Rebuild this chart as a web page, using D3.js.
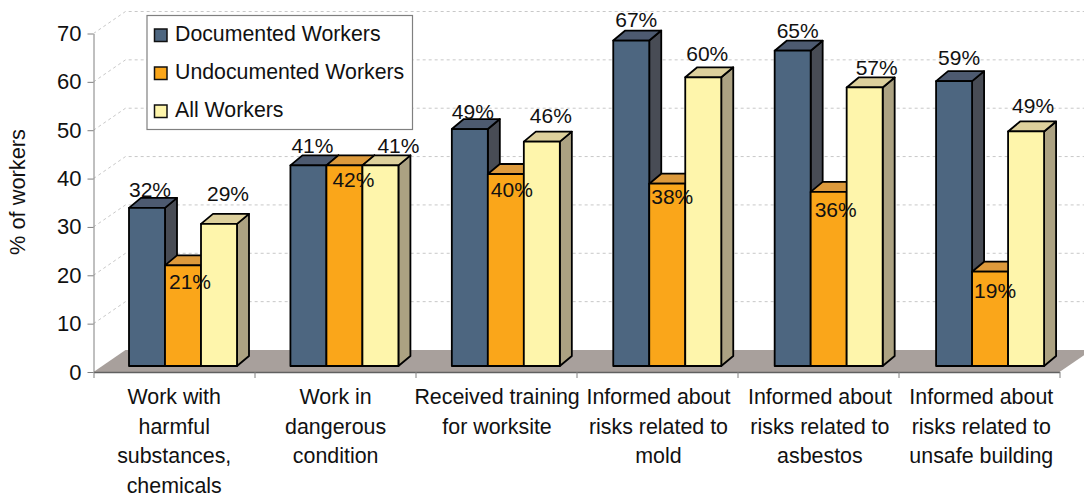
<!DOCTYPE html>
<html>
<head>
<meta charset="utf-8">
<script src="https://cdn.jsdelivr.net/npm/d3@7"></script>
<style>
    html, body { margin: 0; padding: 0; background: #fff; }
    svg { display: block; }
    text { font-family: "Liberation Sans", Arial, sans-serif; fill: #111; }
</style>
</head>
<body>
<svg id="drawing_region"></svg>
<script>
const categories = [
    ["Work with", "harmful", "substances,", "chemicals"],
    ["Work in", "dangerous", "condition"],
    ["Received training", "for worksite"],
    ["Informed about", "risks related to", "mold"],
    ["Informed about", "risks related to", "asbestos"],
    ["Informed about", "risks related to", "unsafe building"]
];
const series_names = ["Documented Workers", "Undocumented Workers", "All Workers"];
const documented = [32.7, 41.5, 49, 67.3, 65.2, 58.9];
const undocumented = [20.8, 41.5, 39.7, 37.7, 36, 19.5];
const all_workers = [29.4, 41.5, 46.4, 59.7, 57.6, 48.5];
const documented_labels = ["32%", "41%", "49%", "67%", "65%", "59%"];
const undocumented_labels = ["21%", "42%", "40%", "38%", "36%", "19%"];
const all_labels = ["29%", "41%", "46%", "60%", "57%", "49%"];
const y_ticks = [0, 10, 20, 30, 40, 50, 60, 70];

const width = 1084, height = 497;
const colors = [
    {front: "#4d6680", top: "#4d5a70", side: "#484c55"},
    {front: "#faa61a", top: "#dd9a3c", side: "#b5822f"},
    {front: "#fef5ab", top: "#ddd09c", side: "#aca282"}
];

// offsets of the 3d box
const wall = {dx: 32, dy: -22};
const bar_depth = {dx: 12, dy: -10};
const bar_lift = 6;

// the picture places its labels by hand, relative to the top of each bar
const label_nudge = [
    {dx: [3, 4, 3, 5, 5, 5], dy: [-11, -12, -10, -14, -13, -16]},
    {dx: [7, 9, 6, 5, 7, 5], dy: [24, 22, 23, 20, 25, 26]},
    {dx: [9, 18, 9, 4, 12, 7], dy: [-23, -12, -19, -16, -12, -18]}
];

const svg = d3.select("#drawing_region")
    .attr("width", width)
    .attr("height", height);

// bars sit on a slightly wider step than the axis ticks in the picture
const xscale = d3.scaleBand()
    .domain(d3.range(categories.length))
    .range([93.5, 1062]);

const xtick = d3.scaleLinear()
    .domain([0, categories.length])
    .range([93.5, 1059.5]);

const inner = d3.scaleBand()
    .domain(d3.range(series_names.length))
    .range([35.5, 143.5]);

const yscale = d3.scaleLinear()
    .domain([0, 70])
    .range([372, 33.5]);

// floor
const y0 = yscale(0);
svg.append("polygon")
    .attr("points", [
        [xtick(0), y0],
        [xtick(0) + wall.dx, y0 + wall.dy],
        [xtick(6) + wall.dx, y0 + wall.dy],
        [xtick(6), y0]
    ].join(" "))
    .attr("fill", "#a8a09c");

// gridlines on the side and back wall
const grid = svg.append("g")
    .attr("fill", "none")
    .attr("stroke", "#c8c8c8")
    .attr("stroke-dasharray", "3,3");
y_ticks.filter(d => d > 0).forEach(d => {
    grid.append("path")
        .attr("d", d3.line()([
            [xtick(0), yscale(d)],
            [xtick(0) + wall.dx, yscale(d) + wall.dy],
            [width, yscale(d) + wall.dy]
        ]));
});

// axes
const yaxis = d3.axisLeft(yscale)
    .tickValues(y_ticks)
    .tickSize(6)
    .tickPadding(6)
    .tickSizeOuter(0);
const yaxis_group = svg.append("g")
    .attr("transform", `translate(${xtick(0)}, 0)`)
    .call(yaxis);
yaxis_group.selectAll("path, line").attr("stroke", "#808080").attr("stroke-width", 1);
yaxis_group.selectAll("text").attr("font-size", 22).attr("fill", "#111");

const xaxis_line = d3.axisBottom(xtick)
    .ticks(categories.length)
    .tickSize(6)
    .tickSizeOuter(0)
    .tickFormat("");
const xaxis_line_group = svg.append("g")
    .attr("transform", `translate(0, ${y0})`)
    .call(xaxis_line);
xaxis_line_group.select("path").attr("stroke", "#606060").attr("stroke-width", 1.5);
xaxis_line_group.selectAll("line").attr("stroke", "#808080");

// category labels, one line per tspan
const xaxis = d3.axisBottom(xscale)
    .tickSize(0);
const xaxis_group = svg.append("g")
    .attr("transform", `translate(0, ${y0})`)
    .call(xaxis);
xaxis_group.select("path").remove();

const cat_text = xaxis_group.selectAll(".tick text")
    .text("")
    .attr("y", 32)
    .attr("dy", 0)
    .attr("font-size", 21.4)
    .attr("fill", "#111");
cat_text.each(function(d) {
    d3.select(this).selectAll("tspan")
        .data(categories[d])
        .enter()
        .append("tspan")
        .attr("x", 0)
        .attr("y", (t, i) => 32 + i * 29.5)
        .text(t => t);
});

// bars, drawn left to right so each one covers the side of its neighbour
const values = [documented, undocumented, all_workers];
const labels = [documented_labels, undocumented_labels, all_labels];

const bar_y = v => yscale(v) - bar_lift;

categories.forEach((c, i) => {
    const group = svg.append("g")
        .attr("transform", `translate(${xscale(i)}, 0)`)
        .attr("stroke", "#000")
        .attr("stroke-width", 1.8)
        .attr("stroke-linejoin", "round");

    series_names.forEach((s, j) => {
        const x1 = inner(j);
        const x2 = x1 + inner.bandwidth();
        const top = bar_y(values[j][i]);
        const bottom = bar_y(0);

        group.append("polygon")
            .attr("points", [
                [x2, top], [x2 + bar_depth.dx, top + bar_depth.dy],
                [x2 + bar_depth.dx, bottom + bar_depth.dy], [x2, bottom]
            ].join(" "))
            .attr("fill", colors[j].side);
        group.append("polygon")
            .attr("points", [
                [x1, top], [x1 + bar_depth.dx, top + bar_depth.dy],
                [x2 + bar_depth.dx, top + bar_depth.dy], [x2, top]
            ].join(" "))
            .attr("fill", colors[j].top);
        group.append("rect")
            .attr("x", x1)
            .attr("y", top)
            .attr("width", inner.bandwidth())
            .attr("height", bottom - top)
            .attr("fill", colors[j].front);
    });
});

// data labels go on last
series_names.forEach((s, j) => {
    svg.append("g")
        .selectAll("text")
        .data(values[j])
        .enter()
        .append("text")
        .attr("x", (d, i) => xscale(i) + inner(j) + inner.bandwidth() / 2 + label_nudge[j].dx[i])
        .attr("y", (d, i) => bar_y(d) + label_nudge[j].dy[i])
        .attr("text-anchor", "middle")
        .attr("font-size", 21)
        .text((d, i) => labels[j][i]);
});

// y label
svg.append("text")
    .attr("transform", "translate(25, 192) rotate(-90)")
    .attr("text-anchor", "middle")
    .attr("font-size", 21.8)
    .text("% of workers");

// legend
const legend = svg.append("g");
legend.append("rect")
    .attr("x", 147)
    .attr("y", 15.5)
    .attr("width", 265.5)
    .attr("height", 114)
    .attr("fill", "#fff")
    .attr("stroke", "#808080")
    .attr("stroke-width", 1.2);

const legend_y = d3.scalePoint()
    .domain(series_names)
    .range([41, 117]);

series_names.forEach((s, j) => {
    legend.append("rect")
        .attr("x", 154.5)
        .attr("y", legend_y(s) - 12)
        .attr("width", 12.5)
        .attr("height", 12.5)
        .attr("fill", colors[j].front)
        .attr("stroke", "#111")
        .attr("stroke-width", 1.5);
    legend.append("text")
        .attr("x", 175)
        .attr("y", legend_y(s))
        .attr("font-size", 21.3)
        .text(s);
});
</script>
</body>
</html>
